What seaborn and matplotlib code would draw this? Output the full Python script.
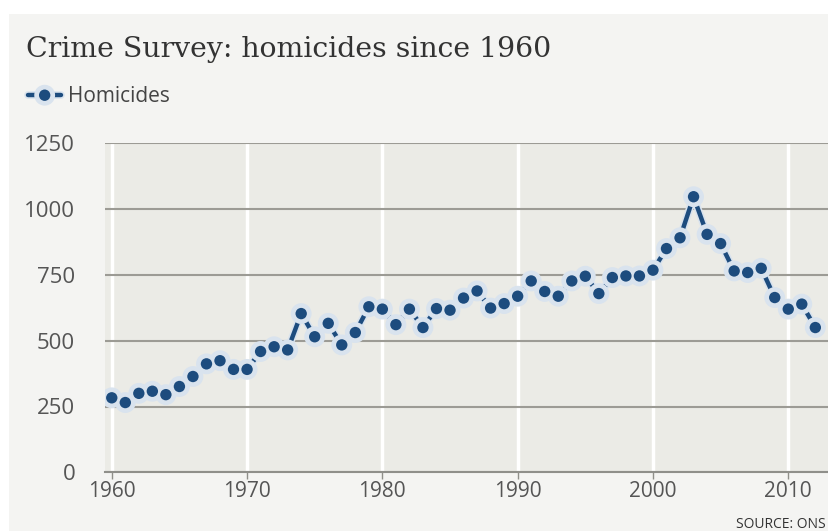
import matplotlib
matplotlib.use("Agg")
import matplotlib.pyplot as plt
import matplotlib.patheffects as pe
from matplotlib.patches import Rectangle
import seaborn as sns
import pandas as pd

years = list(range(1960, 2013))
homicides = [283, 265, 300, 308, 295, 326, 364, 412, 424, 391,
             391, 459, 477, 465, 603, 515, 566, 484, 531, 629,
             620, 561, 620, 550, 622, 616, 662, 689, 624, 641,
             669, 727, 687, 669, 727, 745, 679, 740, 746, 746,
             768, 850, 891, 1047, 904, 869, 765, 759, 775, 664,
             620, 639, 550]
x_ticks = [1960, 1970, 1980, 1990, 2000, 2010]
y_ticks = [0, 250, 500, 750, 1000, 1250]
title = "Crime Survey: homicides since 1960"
series_name = "Homicides"
source = "SOURCE: ONS"

df = pd.DataFrame({"Year": years, series_name: homicides})

sns.set_style("white")
plt.rcParams["font.family"] = ["Open Sans", "DejaVu Sans"]

W, H = 829, 531
fig = plt.figure(figsize=(W / 100, H / 100), dpi=100)
fig.patch.set_facecolor("white")
fig.patches.append(Rectangle((9 / W, 0), 1, 1 - 14 / H, transform=fig.transFigure,
                             facecolor="#f4f4f2", edgecolor="none", zorder=-10))

ax = fig.add_axes([105 / W, 1 - 472.3 / H, (W - 105) / W, (472.3 - 143.3) / H])
ax.set_facecolor("#ebebe6")

line_color = "#1d4c7e"
sns.lineplot(data=df, x="Year", y=series_name, ax=ax, color=line_color, lw=3.2,
             marker="o", markersize=9.5, markeredgecolor="#d9e3ee", markeredgewidth=1.3,
             label=series_name, zorder=5,
             path_effects=[pe.Stroke(linewidth=5.5, foreground="#d9e3ee"), pe.Normal()])

ax.set_xlim(1959.5, 1959.5 + (W - 105) / 13.53)
ax.set_ylim(0, 1250)
ax.set_xticks(x_ticks)
ax.set_yticks(y_ticks)
ax.set_xlabel("")
ax.set_ylabel("")

for s in ["top", "right", "left"]:
    ax.spines[s].set_visible(False)
ax.spines["bottom"].set_color("#8f8f8a")
ax.spines["bottom"].set_linewidth(1.5)

ax.set_axisbelow(True)
ax.xaxis.grid(True, color="white", lw=2.5)
ax.yaxis.grid(True, color="#9c9b95", lw=1.5)
ax.tick_params(axis="x", bottom=True, length=5, width=1, color="#8f8f8a",
               labelsize=15, labelcolor="#555555", pad=1)
ax.tick_params(axis="y", left=False, labelsize=16, labelcolor="#555555", pad=18)

leg = ax.legend(loc="center left", bbox_to_anchor=(28 / W, 1 - 97 / H),
                bbox_transform=fig.transFigure, frameon=False, handlelength=1.6,
                handletextpad=0.3, fontsize=15, borderaxespad=0, borderpad=0)
for t in leg.get_texts():
    t.set_color("#444444")

fig.text(26 / W, 1 - 57 / H, title, fontsize=20.4, color="#333333",
         family=["DejaVu Serif"], ha="left", va="baseline")
fig.text(826 / W, 1 - 524 / H, source, fontsize=10, color="#333333",
         ha="right", va="center")

fig.savefig("out.png", dpi=100, facecolor=fig.get_facecolor())
